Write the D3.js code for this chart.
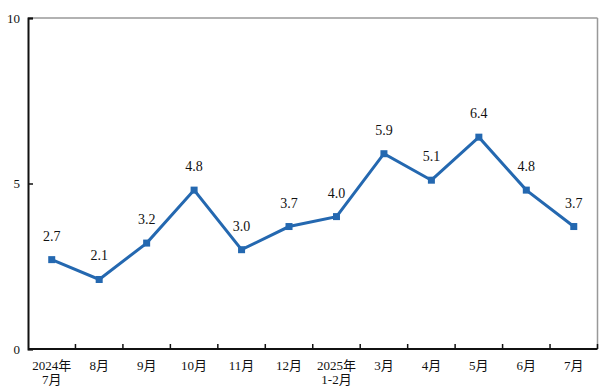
<!DOCTYPE html>
<html><head><meta charset="utf-8">
<script src="https://cdn.jsdelivr.net/npm/d3@7"></script>
<style>body{margin:0;background:#fff}</style>
</head><body>
<svg id="c" width="600" height="392"></svg>
<script>
const categories = [["2024年","7月"],["8月"],["9月"],["10月"],["11月"],["12月"],["2025年","1-2月"],["3月"],["4月"],["5月"],["6月"],["7月"]];
const values = [2.7, 2.1, 3.2, 4.8, 3.0, 3.7, 4.0, 5.9, 5.1, 6.4, 4.8, 3.7];
const yTicks = [0, 5, 10];

const svg = d3.select("#c");
const L = 28, R = 597.5, T = 18, B = 349;
const font = "'Liberation Serif','Times New Roman','Noto Sans CJK SC',serif";
const x = d3.scaleBand().domain(d3.range(categories.length)).range([L, R]);
const y = d3.scaleLinear().domain([0, 10]).range([B, T]);

// frame top/right gray
svg.append("line").attr("x1", L).attr("x2", R).attr("y1", T).attr("y2", T).attr("stroke", "#999").attr("stroke-width", 1.5);
svg.append("line").attr("x1", R).attr("x2", R).attr("y1", T).attr("y2", B).attr("stroke", "#999").attr("stroke-width", 1.5);

// y axis
const ya = svg.append("g").attr("transform", `translate(${L},0)`)
  .call(d3.axisRight(y).tickValues(yTicks).tickSize(5).tickFormat(""));
ya.select(".domain").attr("stroke", "#111").attr("stroke-width", 2);
ya.selectAll(".tick line").attr("stroke", "#111").attr("stroke-width", 1.5);
svg.selectAll(".ylab").data(yTicks).enter().append("text")
  .attr("x", 20).attr("y", d => y(d)).attr("dy", "0.35em").attr("text-anchor", "end")
  .attr("font-family", font).attr("font-size", 13).attr("fill", "#111").text(d => d);

// x axis: ticks at band boundaries, pointing up
const bounds = d3.range(1, categories.length + 1).map(i => L + i * x.step());
svg.append("line").attr("x1", L).attr("x2", R).attr("y1", B).attr("y2", B).attr("stroke", "#111").attr("stroke-width", 2);
svg.selectAll(".xt").data(bounds).enter().append("line")
  .attr("x1", d => d).attr("x2", d => d).attr("y1", B).attr("y2", B - 5)
  .attr("stroke", "#111").attr("stroke-width", 1.5);
const xl = svg.selectAll(".xlab").data(categories).enter().append("text")
  .attr("text-anchor", "middle").attr("font-family", font).attr("font-size", 13).attr("fill", "#111");
xl.each(function(d, i) {
  const t = d3.select(this);
  d.forEach((s, j) => t.append("tspan").attr("x", x(i) + x.bandwidth() / 2).attr("y", 369.5 + j * 14.5).text(s));
});

// line
const cx = (d, i) => x(i) + x.bandwidth() / 2;
const line = d3.line().x(cx).y(d => y(d));
const blue = "#2468b0";
svg.append("path").datum(values).attr("d", line).attr("fill", "none")
  .attr("stroke", blue).attr("stroke-width", 3).attr("stroke-linejoin", "miter");
svg.selectAll(".pt").data(values).enter().append("rect")
  .attr("x", (d, i) => cx(d, i) - 3.5).attr("y", d => y(d) - 3.5)
  .attr("width", 7).attr("height", 7).attr("fill", blue);
svg.selectAll(".vl").data(values).enter().append("text")
  .attr("x", (d, i) => cx(d, i)).attr("y", d => y(d) - 19)
  .attr("text-anchor", "middle").attr("font-family", font).attr("font-size", 14).attr("fill", "#111")
  .text(d => d.toFixed(1));
</script>
</body></html>
